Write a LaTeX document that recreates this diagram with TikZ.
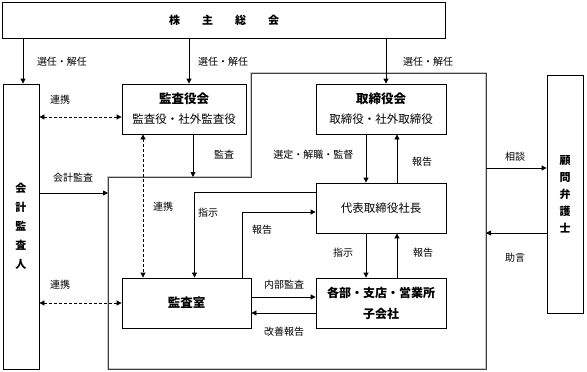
\documentclass[tikz,border=0pt]{standalone}
\usepackage{fontspec}
\setmainfont{Noto Sans CJK JP}
\usepackage{tikz}
\usetikzlibrary{arrows.meta}

\begin{document}
\begin{tikzpicture}[>={Triangle[length=5pt,width=5pt]}, x=1pt, y=-1pt, line width=0.8pt,
  every node/.style={font=\fontsize{10}{12}\selectfont},
  box/.style={draw, inner sep=0pt, align=center, font=\fontsize{11.5}{20}\selectfont},
  title/.style={font=\fontsize{12.5}{20}\selectfont\bfseries},
  dlink/.style={<->, dashed, dash pattern=on 3pt off 2pt},
  frame/.style={draw=black!75, line width=0.7pt, preaction={draw=gray!45, line width=2.4pt}}]
  \useasboundingbox (0,0) rectangle (587,372);
  % boxes
  \node[box, minimum width=443, minimum height=36, font=\fontsize{11}{12}\selectfont\bfseries] (soukai) at (224,20)
    {株\hspace{22pt}主\hspace{22pt}総\hspace{22pt}会};
  \node[box, minimum width=36, minimum height=285, font=\fontsize{11}{19}\selectfont\bfseries] (kaikei) at (21,226.5)
    {会\\計\\監\\査\\人};
  \node[box, minimum width=124, minimum height=50] (kansayaku) at (184,109)
    {{\fontsize{12.5}{20}\selectfont\bfseries 監査役会}\\監査役・社外監査役};
  \node[box, minimum width=130, minimum height=50] (torishimari) at (381,109)
    {{\fontsize{12.5}{20}\selectfont\bfseries 取締役会}\\取締役・社外取締役};
  \node[box, minimum width=130, minimum height=50] (shacho) at (381,208) {代表取締役社長};
  \node[box, title, minimum width=129, minimum height=50] (kansashitsu) at (186.5,303) {監査室};
  \node[box, title, minimum width=130, minimum height=50, font=\fontsize{12}{21}\selectfont\bfseries] (kakubu) at (381,303)
    {各部・支店・営業所\\子会社};
  \node[box, minimum width=36, minimum height=238, font=\fontsize{11}{17}\selectfont\bfseries] (komon) at (565,194)
    {顧\\問\\弁\\護\\士};
  % frame of the company
  \draw[frame] (108,177) -- (251,177) -- (251,73) -- (486,73) -- (486,369) -- (108,369) -- cycle;
  \coordinate (fL) at (108,193);
  \coordinate (fT) at (193,177);
  \coordinate (fR1) at (486,168);
  \coordinate (fR2) at (486,233);
  % appointment
  \draw[->] (soukai.south -| 23,0) -- (kaikei.north -| 23,0);
  \draw[->] ([xshift=5pt]kansayaku.north |- soukai.south) -- ([xshift=5pt]kansayaku.north);
  \draw[->] ([xshift=5pt]torishimari.north |- soukai.south) -- ([xshift=5pt]torishimari.north);
  \node (sn1) at (62,62) {選任・解任};
  \node (sn2) at (223,62) {選任・解任};
  \node (sn3) at (428,62) {選任・解任};
  % audit
  \draw[->] (kansayaku.south -| fT) -- (fT);
  \node (kansa) at (224,155) {監査};
  \draw[->] (kaikei.east |- fL) -- (fL);
  \node (kaikeikansa) at (73,178) {会計監査};
  % cooperation
  \draw[dlink] ([yshift=-8pt]kansayaku.west -| kaikei.east) -- ([yshift=-8pt]kansayaku.west);
  \node (rk1) at (60,100) {連携};
  \draw[dlink] (kansashitsu.west -| kaikei.east) -- (kansashitsu.west);
  \node (rk2) at (60,285) {連携};
  \draw[dlink] ([xshift=-41pt]kansayaku.south) -- ([xshift=-41pt]kansayaku.south |- kansashitsu.north);
  \node (rk3) at (163,207) {連携};
  % board and president
  \draw[->] ([xshift=-15pt]torishimari.south) -- ([xshift=-15pt]shacho.north);
  \draw[->] ([xshift=16pt]shacho.north) -- ([xshift=16pt]torishimari.south);
  \node[anchor=east] (sentei) at (357,155) {選定・解職・監督};
  \node (hk1) at (422,162) {報告};
  \draw[->] ([xshift=-15pt]shacho.south) -- ([xshift=-15pt]kakubu.north);
  \draw[->] ([xshift=16pt]kakubu.north) -- ([xshift=16pt]shacho.south);
  \node (sj1) at (343,253) {指示};
  \node (hk2) at (423,253) {報告};
  % internal audit
  \draw[->] ([yshift=-10pt]shacho.north west) -| ([xshift=8pt]kansashitsu.north);
  \node (sj2) at (208,213) {指示};
  \draw[->] ([xshift=-9pt]kansashitsu.north east) |- ([yshift=-4pt]shacho.west);
  \node (hk3) at (262,230) {報告};
  \draw[->] ([yshift=6pt]kansashitsu.east) -- ([yshift=6pt]kakubu.west);
  \node (naibu) at (284,285) {内部監査};
  \draw[->] ([yshift=-10pt]kakubu.west) -- ([yshift=-10pt]kansashitsu.east);
  \node (kaizen) at (284,332) {改善報告};
  % lawyer
  \draw[->] (fR1) -- (fR1 -| komon.west);
  \node (soudan) at (515,157) {相談};
  \draw[->] (fR2 -| komon.west) -- (fR2);
  \node (jogen) at (515,258) {助言};
\end{tikzpicture}
\end{document}
